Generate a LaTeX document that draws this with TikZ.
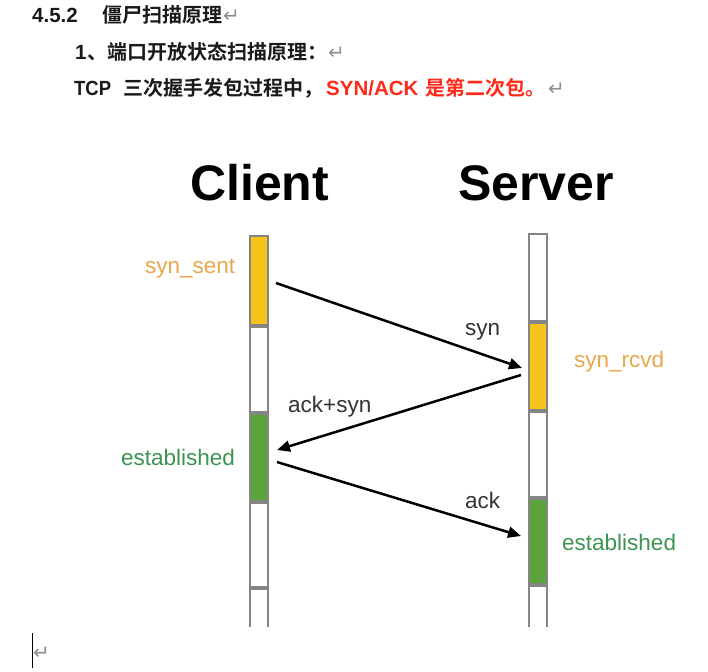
\documentclass[tikz,border=0pt]{standalone}
\usepackage{fontspec}
\setmainfont{Liberation Sans}
\newfontfamily\cjk{Noto Sans CJK SC}[BoldFont={Noto Sans CJK SC Bold}]
\newfontfamily\lat{Liberation Sans}
\newfontfamily\djv{DejaVu Sans}
\usetikzlibrary{arrows.meta}
\definecolor{laneGray}{HTML}{858585}
\definecolor{barYellow}{HTML}{F6C21C}
\definecolor{barGreen}{HTML}{5BA33B}
\definecolor{txtOrange}{HTML}{E9A64B}
\definecolor{txtGreen}{HTML}{3D9452}
\definecolor{txtGray}{HTML}{333333}
\definecolor{hdrDark}{HTML}{1A1A1A}
\definecolor{hdrRed}{HTML}{FF2A1A}
\definecolor{markGray}{HTML}{8E8E8E}
\tikzset{
  hdr/.style={anchor=base west, inner sep=0pt, text=hdrDark, font=\cjk\bfseries\fontsize{20}{24}\selectfont},
  hdrlat/.style={anchor=base west, inner sep=0pt, text=hdrDark, font=\lat\bfseries\fontsize{20.5}{24}\selectfont},
  retmark/.style={anchor=base west, inner sep=0pt, text=markGray, font=\djv\fontsize{20}{22}\selectfont},
  titletxt/.style={anchor=base west, inner sep=0pt, text=black, font=\bfseries\fontsize{50}{60}\selectfont},
  lbl/.style={anchor=base west, inner sep=0pt, font=\fontsize{22.5}{26}\selectfont},
  seg/.style={draw=laneGray, line width=2.8pt},
  sepline/.style={draw=laneGray, line width=4.5pt},
  msg/.style={draw=black, line width=2.5pt, -{Triangle[length=13pt,width=11pt]}}
}
\begin{document}
\begin{tikzpicture}[x=1pt,y=-1pt]
\useasboundingbox[fill=white] (0,0) rectangle (708,671);
% header
\node[hdrlat] (h1a) at (32,23) {4.5.2};
\node[hdr] (h1b) at (102,23) {僵尸扫描原理};
\node[retmark] (r1) at (223,23) {↵};
\node[hdrlat] (h2a) at (75,60) {1};
\node[hdr] (h2b) at (87,60) {、端口开放状态扫描原理：};
\node[retmark] (r2) at (328,60) {↵};
\node[hdrlat] (h3a) at (74,96) {\scalebox{0.9}[1]{TCP}};
\node[hdr] (h3b) at (123,96) {三次握手发包过程中，};
\node[hdrlat, text=hdrRed] (h3c) at (326,96) {SYN/ACK};
\node[hdr, text=hdrRed] (h3d) at (425,96) {是第二次包。};
\node[retmark] (r3) at (548,96) {↵};
% titles
\node[titletxt] (client) at (190,200) {Client};
\node[titletxt] (server) at (458,200) {Server};
% client lane
\fill[barYellow] (250,236) rectangle (268,326);
\fill[white] (250,326) rectangle (268,413);
\fill[barGreen] (250,413) rectangle (268,502);
\fill[white] (250,502) rectangle (268,627);
\draw[seg] (250,627) -- (250,236) -- (268,236) -- (268,627);
\draw[sepline] (250,326) -- (268,326);
\draw[sepline] (250,413) -- (268,413);
\draw[sepline] (250,502) -- (268,502);
\draw[sepline] (250,588) -- (268,588);
% server lane
\fill[white] (529,234) rectangle (547,322);
\fill[barYellow] (529,322) rectangle (547,411);
\fill[white] (529,411) rectangle (547,498);
\fill[barGreen] (529,498) rectangle (547,585);
\fill[white] (529,585) rectangle (547,627);
\draw[seg] (529,627) -- (529,234) -- (547,234) -- (547,627);
\draw[sepline] (529,322) -- (547,322);
\draw[sepline] (529,411) -- (547,411);
\draw[sepline] (529,498) -- (547,498);
\draw[sepline] (529,585) -- (547,585);
% state labels
\node[lbl, text=txtOrange] (synsent) at (145,273) {syn\_sent};
\node[lbl, text=txtGreen] (estc) at (121,465) {established};
\node[lbl, text=txtOrange] (synrcvd) at (574,367) {syn\_rcvd};
\node[lbl, text=txtGreen] (ests) at (562,550) {established};
% message labels
\node[lbl, text=txtGray] (lsyn) at (465,335) {syn};
\node[lbl, text=txtGray] (lackdsyn) at (288,412) {ack+syn};
\node[lbl, text=txtGray] (lack) at (465,508) {ack};
% message end points
\coordinate (c1) at (276,283);
\coordinate (s1) at (522,368);
\coordinate (s2) at (521,375);
\coordinate (c2) at (277,450);
\coordinate (c3) at (277,462);
\coordinate (s3) at (521,536);
\draw[msg] (c1) -- (s1);
\draw[msg] (s2) -- (c2);
\draw[msg] (c3) -- (s3);
% caret and return mark at bottom
\coordinate (caretTop) at (32,633);
\coordinate (caretBot) at (32,668);
\draw[black, line width=1pt] (caretTop) -- (caretBot);
\node[retmark] (r4) at (33,659) {↵};
\end{tikzpicture}
\end{document}
